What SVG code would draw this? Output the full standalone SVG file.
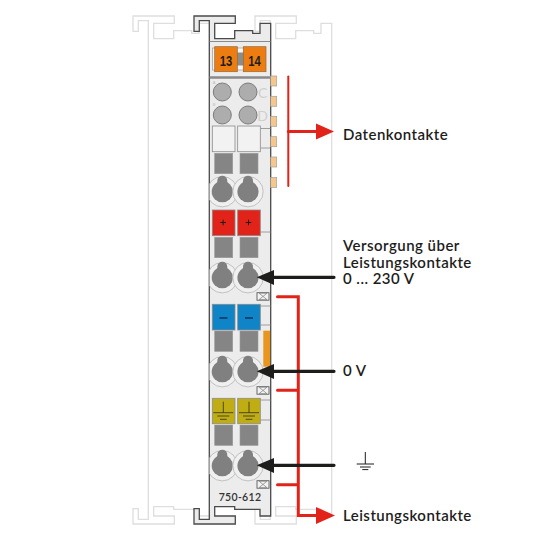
<svg xmlns="http://www.w3.org/2000/svg" width="540" height="540" viewBox="0 0 540 540">
<style>
.lbl{font-family:"Lato","Liberation Sans",sans-serif;font-size:15px;font-weight:600;fill:#1d1d1b;letter-spacing:.47px}
.cell{stroke:#8a8a8a;stroke-width:.8}
.gs{fill:#858585;stroke:#9a9a9a;stroke-width:.6}
.thin{stroke:#8a8a8a;stroke-width:.8;fill:none}
.tab{fill:#f6c78c;stroke:#a0a0a0;stroke-width:.7}
.led{fill:#adadad;stroke:#7c7c7c;stroke-width:1}
.well{fill:#f0f0f0;stroke:#b5b5b5;stroke-width:.8}
.key{fill:#808080}
.red{stroke:#e2231a;fill:none;stroke-linecap:round}
.blk{stroke:#1d1d1b;stroke-width:3.2;fill:none;stroke-linecap:round}
.sym{stroke:#1d1d1b;stroke-width:1;fill:none}
.num{font-family:"Liberation Sans",sans-serif;font-size:15.5px;font-weight:700;fill:#1d1d1b;text-anchor:middle}
</style>
<defs>
<path id="outline" d="M194 16H235.3V23.3H214.7V38.7H234.7V30.7H252.7V33.3H260V23.3H270.7V516H260V509.3H234.7V506.7H214.7V516H235.3V524H194V508.7H199.3V519.3H209.3V36V20.7H199.3V31.3H194Z"/>
<clipPath id="body"><rect x="209.5" y="20" width="61" height="500"/></clipPath>
<g id="key"><circle cx="0" cy="0" r="15.2" class="well"/><circle cx="0" cy="0" r="10.6" class="key"/><rect x="-5" y="-16" width="10" height="14" rx="5" class="key"/></g>
<g id="xbox"><rect x="257" y="0" width="12" height="7.5" fill="#f2f2f2" stroke="#5a5a5a" stroke-width=".9"/><path d="M259 .5L267 7M267 .5L259 7M259 .5H267M259 7H267" class="thin"/></g>
<g id="pair"><rect x="214.7" y="0" width="18" height="20.4" class="gs"/><rect x="240" y="0" width="18" height="20.4" class="gs"/></g>
</defs>
<g id="ghosts" fill="#fff" stroke="#dedede" stroke-width="1.3">
<use href="#outline" x="-61"/>
<use href="#outline" x="61"/>
</g>
<g id="module">
<use href="#outline" fill="#ececec" stroke="#4a4a4a" stroke-width="1.3"/>
<path d="M209.5 41.5H270.5" stroke="#8a8a8a" stroke-width="1"/>
<path d="M209.5 77.5H270.5" stroke="#8a8a8a" stroke-width="2.4"/>
<text x="214" y="84" font-family="Liberation Sans,sans-serif" font-size="4" fill="#bbb" text-anchor="middle">A</text>
<text x="214" y="106" font-family="Liberation Sans,sans-serif" font-size="4" fill="#bbb" text-anchor="middle">B</text>
</g>
<g id="terminal-13-14">
<rect x="212.5" y="48" width="53" height="22" fill="#f7f7f7" stroke="#9a9a9a" stroke-width=".7"/>
<rect x="237" y="52.5" width="7" height="13" fill="#8c8c8c"/>
<rect x="214.7" y="46.7" width="22.6" height="25" fill="#ee7d11" stroke="#8f6a3a" stroke-width=".7"/>
<rect x="243.3" y="46.7" width="22.7" height="25" fill="#ee7d11" stroke="#8f6a3a" stroke-width=".7"/>
<text class="num" x="226" y="65.5" textLength="12.5" lengthAdjust="spacingAndGlyphs">13</text>
<text class="num" x="254.6" y="65.5" textLength="12.5" lengthAdjust="spacingAndGlyphs">14</text>
</g>
<g id="leds">
<circle cx="222.3" cy="92" r="9" class="led"/><circle cx="248" cy="92" r="9" class="led"/>
<circle cx="222.3" cy="115" r="9" class="led"/><circle cx="248" cy="115" r="9" class="led"/>
<text x="262.7" y="98" font-family="Lato,Liberation Sans,sans-serif" font-size="14" fill="#cfcfcf" text-anchor="middle">C</text>
<text x="262.7" y="121" font-family="Lato,Liberation Sans,sans-serif" font-size="14" fill="#cfcfcf" text-anchor="middle">D</text>
</g>
<g id="data-tabs">
<rect x="270.7" y="76" width="6" height="10" class="tab"/>
<rect x="270.7" y="96.3" width="6" height="10" class="tab"/>
<rect x="270.7" y="116.3" width="6" height="10" class="tab"/>
<rect x="270.7" y="136.7" width="6" height="10" class="tab"/>
<rect x="270.7" y="157" width="6" height="10" class="tab"/>
<rect x="270.7" y="177.5" width="6" height="10" class="tab"/>
</g>
<g id="level-1">
<path d="M260.3 128.5H270.5M260.3 148H270.5" class="thin"/>
<rect x="212.3" y="126" width="22.7" height="25.7" fill="#f2f2f2" class="cell"/>
<rect x="237.7" y="126" width="22.6" height="25.7" fill="#f2f2f2" class="cell"/>
<use href="#pair" y="153.3"/>
<g clip-path="url(#body)"><use href="#key" x="222.3" y="191.7"/><use href="#key" x="248" y="191.7"/></g>
</g>
<g id="level-2">
<path d="M260.3 232H270.5" class="thin"/>
<rect x="212.3" y="210" width="22.7" height="25.7" fill="#e2231a" class="cell"/>
<rect x="237.7" y="210" width="22.6" height="25.7" fill="#e2231a" class="cell"/>
<path d="M220.3 222.5h5.6M223.1 219.7v5.6M245.7 222.5h5.6M248.5 219.7v5.6" stroke="#1d1d1b" stroke-width="1"/>
<use href="#pair" y="237.3"/>
<g clip-path="url(#body)"><use href="#key" x="222.3" y="277.7"/><use href="#key" x="248" y="277.7"/></g>
</g>
<g id="level-3">
<use href="#xbox" y="292.7"/>
<path d="M260.3 306H270.5M260.3 325H270.5" class="thin"/>
<rect x="212.3" y="304.3" width="22.7" height="25.7" fill="#0f84c6" class="cell"/>
<rect x="237.7" y="304.3" width="22.6" height="25.7" fill="#0f84c6" class="cell"/>
<path d="M219.5 318h8M245 318h8" stroke="#14315f" stroke-width="1.6"/>
<use href="#pair" y="331"/>
<g clip-path="url(#body)"><use href="#key" x="222.3" y="371.7"/><use href="#key" x="248" y="371.7"/></g>
<rect x="263.3" y="330.7" width="6.8" height="36" fill="#e8961e"/>
</g>
<g id="level-4">
<use href="#xbox" y="386.7"/>
<path d="M260.3 400H270.5M260.3 420H270.5" class="thin"/>
<rect x="212.3" y="398.3" width="22.7" height="25.4" fill="#c0ad14" class="cell"/>
<rect x="237.7" y="398.3" width="22.6" height="25.4" fill="#c0ad14" class="cell"/>
<path d="M223.3 401.7v11M213.3 412.7h20M217.3 416h12M220 419.3h6.7M249 401.7v11M239 412.7h20M243 416h12M245.7 419.3h6.7" stroke="#2f2f1a" stroke-width=".8" fill="none"/>
<use href="#pair" y="425"/>
<g clip-path="url(#body)"><use href="#key" x="222.3" y="465.7"/><use href="#key" x="248" y="465.7"/></g>
<use href="#xbox" y="480.7"/>
<text x="240" y="500.7" font-family="Lato,Liberation Sans,sans-serif" font-size="10.5" font-weight="600" fill="#333" text-anchor="middle" letter-spacing=".3">750-612</text>
</g>
<g id="connectors">
<path class="red" stroke-width="2" d="M288.3 76.5V186"/>
<path class="red" stroke-width="3" d="M288.3 131.5H318"/>
<polygon points="316,123.5 334,131.5 316,139.5" fill="#e2231a"/>
<path class="red" stroke-width="3" d="M277.5 296.7H298.3V515.5H318M277.5 390.3H298.3M277.5 484.7H298.3"/>
<polygon points="316,507 335,515.5 316,524" fill="#e2231a"/>
<path class="blk" d="M272 277.3H334M272 371.3H334M272 465.3H334"/>
<polygon points="256.7,277.3 274,270 274,285" fill="#1d1d1b"/>
<polygon points="256.7,371.3 274,364 274,379" fill="#1d1d1b"/>
<polygon points="256.7,465.3 274,458 274,473" fill="#1d1d1b"/>
</g>
<g id="labels">
<text class="lbl" x="343" y="140">Datenkontakte</text>
<text class="lbl" x="343" y="251">Versorgung über</text>
<text class="lbl" x="343" y="267.5">Leistungskontakte</text>
<text class="lbl" x="343" y="284">0 ... 230 V</text>
<text class="lbl" x="343" y="375.7">0 V</text>
<text class="lbl" x="343" y="521">Leistungskontakte</text>
</g>
<g id="ground"><path class="sym" d="M365.3 452V464M356.7 464H374M360 467H370.7M362.3 469.6H368.3"/></g>
</svg>
